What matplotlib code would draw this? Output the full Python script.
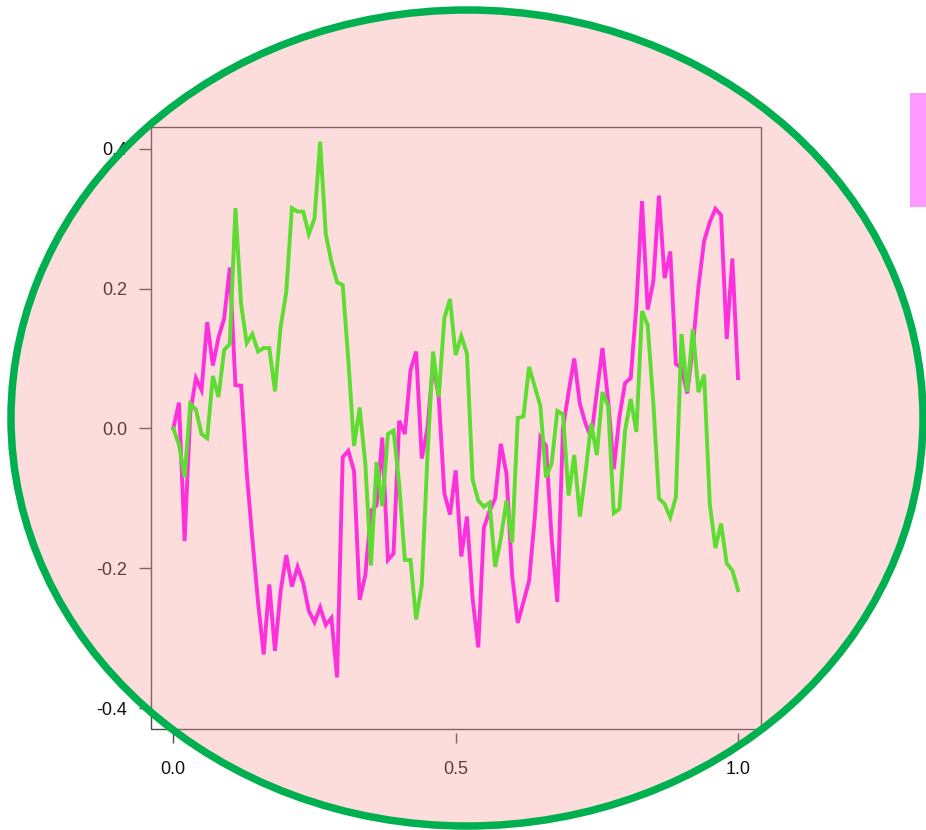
import numpy as np
import matplotlib
matplotlib.use('Agg')
import matplotlib.pyplot as plt
from matplotlib.patches import Ellipse, Rectangle

plt.rcParams['font.family'] = ['Liberation Sans', 'DejaVu Sans']

# two traces sampled every 0.01 on [0, 1]
t = np.linspace(0, 1, 101)

magenta_y = [
    0.000, 0.037, -0.161, 0.022, 0.072, 0.055, 0.152, 0.090, 0.130, 0.157,
    0.230, 0.062, 0.061, -0.063, -0.158, -0.248, -0.323, -0.223, -0.318, -0.233,
    -0.181, -0.226, -0.198, -0.221, -0.261, -0.277, -0.256, -0.281, -0.271, -0.356,
    -0.041, -0.032, -0.061, -0.245, -0.210, -0.118, -0.110, -0.013, -0.188, -0.179,
    0.011, -0.008, 0.083, 0.110, -0.043, 0.000, 0.092, 0.045, -0.093, -0.123,
    -0.060, -0.183, -0.126, -0.243, -0.313, -0.142, -0.118, -0.100, -0.022, -0.065,
    -0.210, -0.278, -0.248, -0.218, -0.128, -0.013, -0.025, -0.158, -0.248, 0.000,
    0.052, 0.100, 0.035, 0.007, -0.013, 0.052, 0.115, 0.040, -0.058, 0.017,
    0.065, 0.072, 0.175, 0.325, 0.170, 0.210, 0.333, 0.215, 0.253, 0.092,
    0.087, 0.050, 0.117, 0.203, 0.268, 0.295, 0.314, 0.305, 0.128, 0.243,
    0.072,
]

green_y = [
    0.000, -0.023, -0.070, 0.035, 0.027, -0.008, -0.014, 0.075, 0.045, 0.112,
    0.121, 0.315, 0.178, 0.122, 0.135, 0.110, 0.115, 0.115, 0.053, 0.145,
    0.195, 0.315, 0.310, 0.310, 0.278, 0.300, 0.410, 0.278, 0.238, 0.209,
    0.205, 0.097, -0.025, 0.030, -0.050, -0.196, -0.048, -0.111, -0.008, -0.003,
    -0.080, -0.188, -0.188, -0.273, -0.224, -0.040, 0.110, 0.045, 0.158, 0.185,
    0.105, 0.132, 0.107, -0.073, -0.103, -0.112, -0.106, -0.198, -0.157, -0.103,
    -0.163, 0.015, 0.017, 0.088, 0.060, 0.032, -0.070, -0.050, 0.025, 0.020,
    -0.096, -0.038, -0.126, -0.063, 0.007, -0.038, 0.052, 0.032, -0.121, -0.115,
    -0.003, 0.042, -0.005, 0.168, 0.148, 0.037, -0.100, -0.108, -0.127, -0.098,
    0.135, 0.052, 0.142, 0.052, 0.077, -0.108, -0.171, -0.136, -0.193, -0.203,
    -0.231,
]

xticks = [0.0, 0.5, 1.0]
yticks = [-0.4, -0.2, 0.0, 0.2, 0.4]

W, H = 926, 830
fig = plt.figure(figsize=(W / 100, H / 100), dpi=100, facecolor='white')

# plot box in pixels: left 151, right 761, top 127, bottom 729
ax = fig.add_axes([151 / W, 1 - 729 / H, 610 / W, 602 / H])
ax.set_facecolor('none')

ax.plot(t, magenta_y, color='#ff00ff', lw=2.8, solid_joinstyle='miter')
ax.plot(t, green_y, color='#11ff00', lw=2.8, solid_joinstyle='miter')

ax.set_xlim(-0.0395, 1.0407)
ax.set_ylim(-0.4297, 0.431)

for s in ax.spines.values():
    s.set_visible(False)
ax.spines['bottom'].set_position(('outward', 3))
ax.add_patch(Rectangle((0, 0), 1, 1, transform=ax.transAxes, fill=False,
                       edgecolor='#4a4a4a', lw=1.0, clip_on=False, zorder=3))

ax.set_xticks(xticks)
ax.set_xticklabels(['%.1f' % v for v in xticks])
ax.set_yticks(yticks)
ax.set_yticklabels(['%.1f' % v for v in yticks])
ax.tick_params(axis='x', direction='out', length=7, width=1.0, color='#4a4a4a',
               labelsize=13, labelcolor='#111111', pad=13)
ax.tick_params(axis='y', direction='out', length=9, width=1.0, color='#4a4a4a',
               labelsize=13, labelcolor='#111111', pad=8)

# translucent pink oval laid over the whole chart, with a green rim
cx, cy = 467 / W, 1 - 418 / H
ew, eh = 912 / W, 816 / H
fig.add_artist(Ellipse((cx, cy), ew, eh, transform=fig.transFigure,
                       facecolor='#f99696', alpha=0.33, edgecolor='none', zorder=5))
fig.add_artist(Ellipse((cx, cy), ew, eh, transform=fig.transFigure,
                       facecolor='none', edgecolor='#00b050', lw=5.4, zorder=6))

# clipped legend swatch at the right edge
fig.add_artist(Rectangle((910 / W, 1 - 207 / H), 30 / W, 114 / H,
                         transform=fig.transFigure, facecolor='#ff99ff',
                         edgecolor='none', zorder=7))

fig.savefig('out.png', dpi=100)
